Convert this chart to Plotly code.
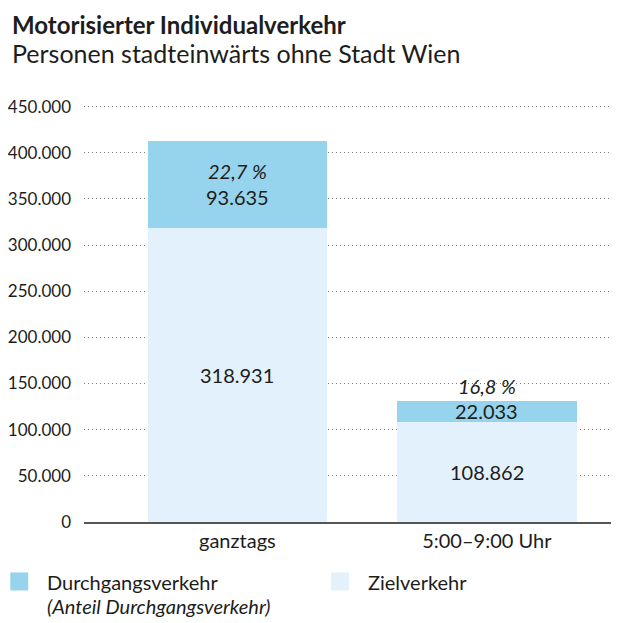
import plotly.graph_objects as go

# Daten: Personen stadteinwärts (ohne Stadt Wien)
kategorien = ["ganztags", "5:00–9:00 Uhr"]
zielverkehr = [318931, 108862]
durchgangsverkehr = [93635, 22033]

y_ticks = [0, 50000, 100000, 150000, 200000, 250000, 300000, 350000, 400000, 450000]

FARBE_DURCH = "#96D3EC"
FARBE_ZIEL = "#E2F1FB"
TEXT = "#1d1d1b"
FONT = "Lato"

# Plotfläche im Fenster (Seite hat 8px Rand)
PX_L, PX_T, PX_B = 82, 102, 522.5
PLOT_W, PLOT_H = 619 - PX_L, PX_B - PX_T


def px(x):
    return (x - PX_L) / PLOT_W


def py(y):
    return (PX_B - y) / PLOT_H


def de(n):
    # deutsches Tausendertrennzeichen
    return f"{n:,}".replace(",", ".")


fig = go.Figure()

fig.add_trace(go.Bar(
    x=kategorien, y=zielverkehr, name="Zielverkehr",
    marker=dict(color=FARBE_ZIEL, line=dict(width=0)),
    width=0.72, showlegend=False, hoverinfo="skip",
))
fig.add_trace(go.Bar(
    x=kategorien, y=durchgangsverkehr, name="Durchgangsverkehr",
    marker=dict(color=FARBE_DURCH, line=dict(width=0)),
    width=0.72, showlegend=False, hoverinfo="skip",
))

# Beschriftungen der Segmente
lab_font = dict(size=20, color=TEXT, family=FONT)
for kat, z, d in zip(kategorien, zielverkehr, durchgangsverkehr):
    anteil = d / (z + d) * 100
    pct = f"{anteil:.1f} %".replace(".", ",")
    fig.add_annotation(x=kat, y=z / 2, text=de(z), showarrow=False, font=lab_font)
    if d > 50000:
        fig.add_annotation(x=kat, y=z + d / 2, text=f"<i>{pct}</i><br>{de(d)}",
                           showarrow=False, font=lab_font)
    else:
        fig.add_annotation(x=kat, y=z + d / 2, text=de(d), showarrow=False,
                           font=lab_font)
        fig.add_annotation(x=kat, y=z + d, text=f"<i>{pct}</i>", showarrow=False,
                           yanchor="bottom", yshift=1, font=lab_font)

# Legende (manuell)
legende = [
    (8, FARBE_DURCH, "Durchgangsverkehr", "(Anteil Durchgangsverkehr)"),
    (330, FARBE_ZIEL, "Zielverkehr", None),
]
for x0, farbe, label, zusatz in legende:
    fig.add_shape(type="rect", xref="paper", yref="paper",
                  x0=px(x0), x1=px(x0 + 18), y0=py(591), y1=py(573),
                  fillcolor=farbe, line=dict(width=0))
    fig.add_annotation(xref="paper", yref="paper", x=px(x0 + 35), y=py(583),
                       xanchor="left", yanchor="middle", showarrow=False,
                       text=label, font=lab_font)
    if zusatz:
        fig.add_annotation(xref="paper", yref="paper", x=px(x0 + 35), y=py(607),
                           xanchor="left", yanchor="middle", showarrow=False,
                           text=f"<i>{zusatz}</i>", font=lab_font)

# Titel
fig.add_annotation(xref="paper", yref="paper", x=px(8), y=py(8),
                   xanchor="left", yanchor="top", showarrow=False,
                   text="<b>Motorisierter Individualverkehr</b>",
                   font=dict(size=24, color=TEXT, family=FONT))
fig.add_annotation(xref="paper", yref="paper", x=px(8), y=py(53),
                   xanchor="left", yanchor="middle", showarrow=False,
                   text="Personen stadteinwärts ohne Stadt Wien",
                   font=dict(size=25, color=TEXT, family=FONT))

fig.update_layout(
    width=611, height=615,
    margin=dict(l=PX_L - 8, r=0, t=PX_T - 8, b=623 - PX_B),
    barmode="stack",
    separators=",.",
    plot_bgcolor="white", paper_bgcolor="white",
    font=dict(family=FONT, color=TEXT),
)
fig.update_xaxes(
    range=[-0.615, 1.53], showgrid=False, showline=True,
    linecolor="#555555", linewidth=1.5, ticks="",
    tickfont=dict(size=20, color=TEXT, family=FONT),
)
fig.update_yaxes(
    range=[0, 455000], tickvals=y_ticks, tickformat=",d",
    showgrid=True, gridcolor="#7a7a7a", griddash="1px,3px", gridwidth=1,
    zeroline=False, showline=False, ticks="", ticklabelstandoff=12,
    tickfont=dict(size=17, color=TEXT, family=FONT),
)

fig.write_html("out.html")
